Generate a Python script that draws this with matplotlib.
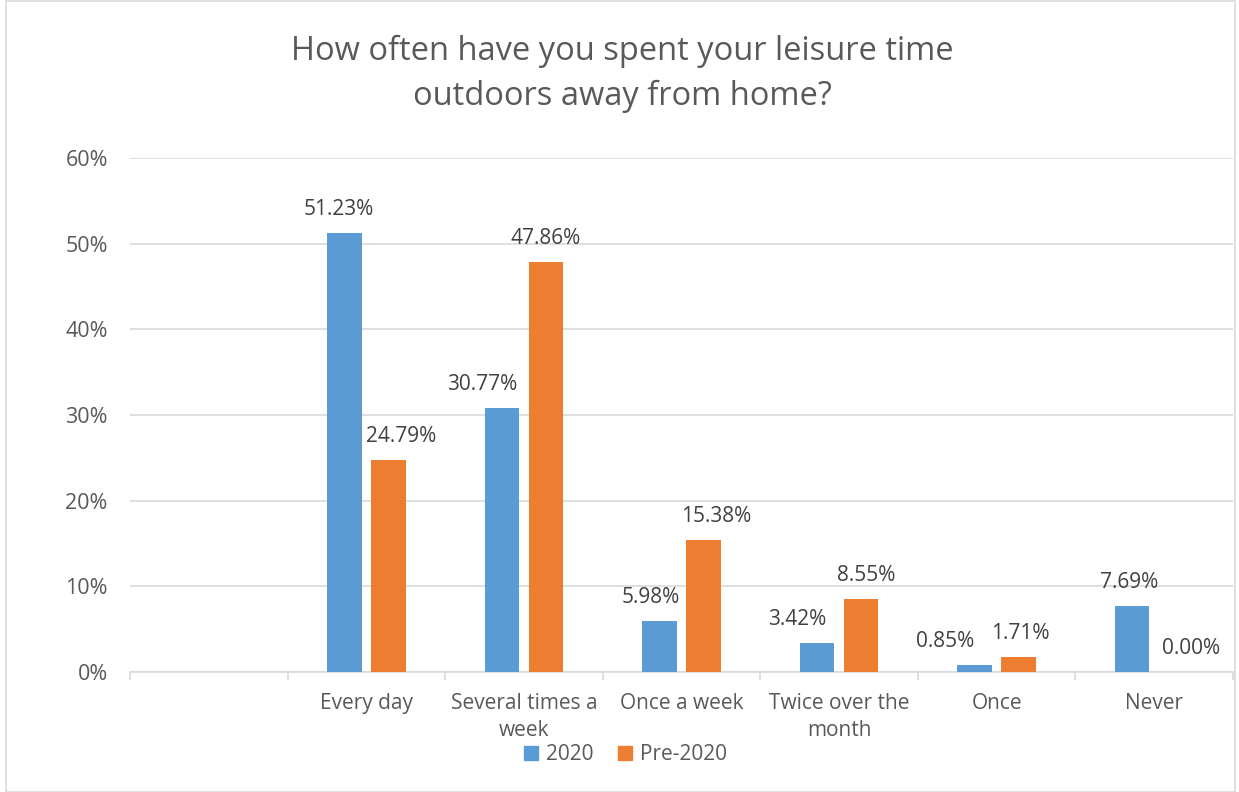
import matplotlib
matplotlib.use("Agg")
import matplotlib.pyplot as plt
from matplotlib.patches import Rectangle
import numpy as np

plt.rcParams["font.family"] = ["Open Sans", "DejaVu Sans"]

# survey answers; the first slot is blank in the source sheet
categories = ["", "Every day", "Several times a\nweek", "Once a week",
              "Twice over the\nmonth", "Once", "Never"]
share_2020 = [None, 51.23, 30.77, 5.98, 3.42, 0.85, 7.69]
share_pre2020 = [None, 24.79, 47.86, 15.38, 8.55, 1.71, 0.00]
y_ticks = [0, 10, 20, 30, 40, 50, 60]

BLUE = "#5b9bd5"
ORANGE = "#ed7d31"
GRID = "#d9d9d9"
TXT = "#595959"
LBL = "#404040"

# small sideways nudges (points) so neighbouring labels don't collide
nudge_2020 = [0, -4, -14, -6, -14, -21, -2]
nudge_pre = [0, 9, 0, 9, 4, 1, 11]

fig = plt.figure(figsize=(12.39, 7.92), dpi=100)
ax = fig.add_axes([130 / 1239, 120 / 792, 1103 / 1239, 514 / 792])

x = np.arange(len(categories))
w = 0.22
off = 0.14
for vals, dx, col, nudges in ((share_2020, -off, BLUE, nudge_2020),
                              (share_pre2020, off, ORANGE, nudge_pre)):
    for xi, v, nd in zip(x, vals, nudges):
        if v is None:
            continue
        ax.bar(xi + dx, v, width=w, color=col, zorder=3)
        ax.annotate(f"{v:.2f}%", (xi + dx, v), xytext=(nd, 17),
                    textcoords="offset points", ha="center", va="center",
                    fontsize=15, color=LBL)

ax.set_xlim(-0.5, len(categories) - 0.5)
ax.set_ylim(0, 60)
ax.set_yticks(y_ticks)
ax.set_yticklabels([f"{t}%" for t in y_ticks], fontsize=15.5, color=TXT)
ax.yaxis.grid(True, color=GRID, lw=1.2, zorder=0)
ax.tick_params(axis="y", length=0, pad=16)

ax.set_xticks(x)
ax.set_xticklabels(categories, fontsize=15, color=TXT, linespacing=1.4)
ax.tick_params(axis="x", length=0, pad=15)
# category boundary ticks hanging below the axis
ax.set_xticks(np.arange(len(categories) + 1) - 0.5, minor=True)
ax.tick_params(axis="x", which="minor", length=6, color=GRID, width=1.2)

for side in ("top", "right", "left"):
    ax.spines[side].set_visible(False)
ax.spines["bottom"].set_color(GRID)
ax.spines["bottom"].set_linewidth(1.2)

fig.text(0.502, 0.907, "How often have you spent your leisure time\noutdoors away from home?",
         ha="center", va="center", fontsize=23.5, color=TXT, linespacing=1.45)

# legend
handles = [Rectangle((0, 0), 1, 1, color=BLUE), Rectangle((0, 0), 1, 1, color=ORANGE)]
fig.legend(handles, ["2020", "Pre-2020"], loc="center", bbox_to_anchor=(0.505, 0.047),
           ncol=2, frameon=False, fontsize=15, labelcolor=TXT, handlelength=0.65,
           handleheight=0.65, handletextpad=0.4, columnspacing=1.2)

fig.add_artist(Rectangle((6 / 1239, 0), 1229 / 1239, 0.999, transform=fig.transFigure,
                         fill=False, edgecolor=GRID, lw=1.2))

fig.savefig("out.png", dpi=100)
